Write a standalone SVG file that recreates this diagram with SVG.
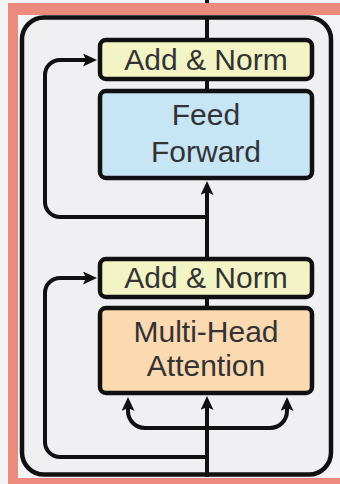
<svg xmlns="http://www.w3.org/2000/svg" width="340" height="484" viewBox="0 0 340 484">
  <defs>
    <style>
      .box { stroke: #111; stroke-width: 4.5; }
      .an { fill: #f3f4c6; }
      .ff { fill: #c6e5f5; }
      .mha { fill: #fbd9b1; }
      .lbl { font-family: "Liberation Sans", Arial, sans-serif; font-size: 30px; fill: #333; text-anchor: middle; }
      .con { fill: none; stroke: #111; stroke-width: 4; }
    </style>
    <marker id="ah" viewBox="0 0 14 13" refX="3" refY="6.5" markerWidth="14" markerHeight="13" markerUnits="userSpaceOnUse" orient="auto">
      <path d="M0,0 L14,6.5 L0,13 L3,6.5 z" fill="#111"/>
    </marker>
  </defs>
  <rect x="0" y="0" width="340" height="484" fill="#f4f4f6"/>
  <path d="M8,3 H340 V15 H18 V478 H340 V484 H8 Z" fill="#ec8b7d"/>
  <rect id="outer" x="22" y="17.5" width="309" height="457" rx="22" fill="#f0f0f3" stroke="#111" stroke-width="4.5"/>

  <g id="connectors">
    <path class="con" d="M207,0 V3"/>
    <path class="con" d="M207,16 V40"/>
    <path class="con" d="M207,80 V91"/>
    <path class="con" d="M207,258 V192" marker-end="url(#ah)"/>
    <path class="con" d="M207,217 H60 A15,15 0 0 1 45,202 V75 A15,15 0 0 1 60,60 H86" marker-end="url(#ah)"/>
    <path class="con" d="M207,297 V308"/>
    <path class="con" d="M207,477 V407" marker-end="url(#ah)"/>
    <path class="con" d="M207,428 H145 A17,17 0 0 1 128,411 V408" marker-end="url(#ah)"/>
    <path class="con" d="M207,428 H270 A17,17 0 0 0 287,411 V408" marker-end="url(#ah)"/>
    <path class="con" d="M207,457 H60 A15,15 0 0 1 45,442 V293 A15,15 0 0 1 60,278 H86" marker-end="url(#ah)"/>
  </g>

  <g id="addnorm1">
    <rect class="box an" x="100" y="40" width="212" height="39" rx="6"/>
    <text class="lbl" x="206" y="70">Add &amp; Norm</text>
  </g>
  <g id="feedforward">
    <rect class="box ff" x="100" y="91" width="212" height="87" rx="6"/>
    <text class="lbl" x="206" y="125">Feed</text>
    <text class="lbl" x="206" y="162">Forward</text>
  </g>
  <g id="addnorm2">
    <rect class="box an" x="100" y="259" width="212" height="38" rx="6"/>
    <text class="lbl" x="206" y="288">Add &amp; Norm</text>
  </g>
  <g id="mha">
    <rect class="box mha" x="100" y="308" width="212" height="85" rx="6"/>
    <text class="lbl" x="206" y="342">Multi-Head</text>
    <text class="lbl" x="206" y="376">Attention</text>
  </g>
</svg>
